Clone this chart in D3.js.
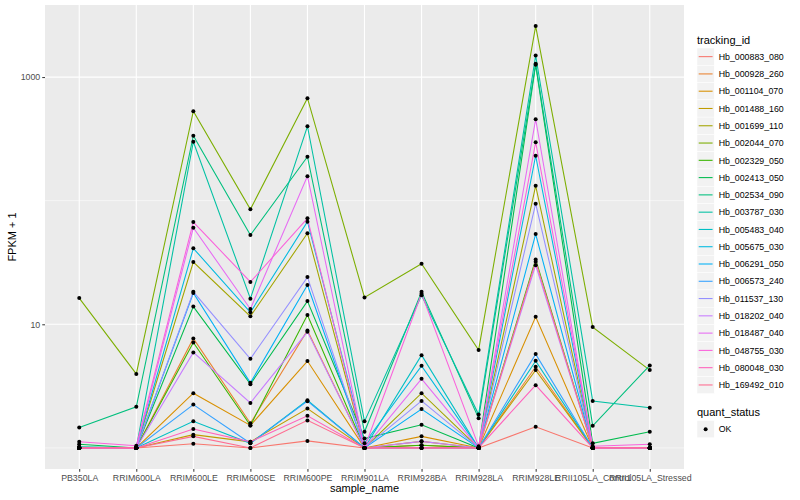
<!DOCTYPE html>
<html lang="en">
<head>
<meta charset="UTF-8">
<title>FPKM + 1</title>
<style>
  body { margin: 0; background: #fff; }
  text { font-family: "Liberation Sans", Arial, sans-serif; }
</style>
</head>
<body>
<svg id="chart" width="800" height="500"></svg>
<script src="https://d3js.org/d3.v7.min.js"></script>
<script>
// muestras (eje x)
var samples = ["PB350LA", "RRIM600LA", "RRIM600LE", "RRIM600SE", "RRIM600PE", "RRIM901LA",
  "RRIM928BA", "RRIM928LA", "RRIM928LE", "RRII105LA_Control", "RRII105LA_Stressed"];

var trackingIds = ["Hb_000883_080", "Hb_000928_260", "Hb_001104_070", "Hb_001488_160", "Hb_001699_110",
  "Hb_002044_070", "Hb_002329_050", "Hb_002413_050", "Hb_002534_090", "Hb_003787_030",
  "Hb_005483_040", "Hb_005675_030", "Hb_006291_050", "Hb_006573_240", "Hb_011537_130",
  "Hb_018202_040", "Hb_018487_040", "Hb_048755_030", "Hb_080048_030", "Hb_169492_010"];

var colors = ["#F8766D", "#EA8331", "#D89000", "#C09B00", "#A3A500", "#7CAE00", "#39B600", "#00BB4E",
  "#00BF7D", "#00C1A3", "#00BFC4", "#00BAE0", "#00B0F6", "#35A2FF", "#9590FF", "#C77CFF",
  "#E76BF3", "#FA62DB", "#FF62BC", "#FF6C91"];

// FPKM + 1 por muestra
var hb_000883_080 = [1.0, 1.0, 1.08, 1.0, 1.14, 1.0, 1.0, 1.0, 1.48, 1.0, 1.0];
var hb_000928_260 = [1.0, 1.0, 7.69, 1.58, 8.92, 1.0, 1.05, 1.0, 4.53, 1.0, 1.0];
var hb_001104_070 = [1.0, 1.0, 2.77, 1.52, 5.04, 1.0, 1.24, 1.0, 11.5, 1.0, 1.0];
var hb_001488_160 = [1.0, 1.0, 1.28, 1.12, 2.08, 1.0, 1.13, 1.0, 4.26, 1.0, 1.0];
var hb_001699_110 = [1.0, 1.0, 31.9, 11.6, 54.5, 1.0, 2.77, 1.0, 132, 1.0, 1.0];
var hb_002044_070 = [16.3, 3.97, 530, 85.2, 675, 16.5, 30.9, 6.2, 2585, 9.49, 4.26];
var hb_002329_050 = [1.0, 1.0, 7.13, 1.52, 11.9, 1.0, 1.05, 1.0, 33.5, 1.0, 1.0];
var hb_002413_050 = [1.07, 1.0, 13.9, 3.28, 15.4, 1.19, 1.54, 1.0, 1256, 1.09, 1.35];
var hb_002534_090 = [1.46, 2.15, 336, 52.7, 227, 1.35, 18.3, 1.74, 1279, 1.51, 4.65];
var hb_003787_030 = [1.02, 1.0, 300, 16.1, 400, 1.64, 17.2, 1.86, 1493, 2.40, 2.11];
var hb_005483_040 = [1.0, 1.0, 1.64, 1.09, 2.43, 1.0, 5.63, 1.0, 5.06, 1.0, 1.0];
var hb_005675_030 = [1.0, 1.0, 41.2, 12.5, 67.6, 1.09, 4.61, 1.0, 231, 1.0, 1.0];
var hb_006291_050 = [1.0, 1.0, 17.9, 3.36, 20.8, 1.0, 2.06, 1.0, 53.7, 1.0, 1.0];
var hb_006573_240 = [1.0, 1.0, 2.24, 1.09, 2.39, 1.0, 1.0, 1.0, 5.74, 1.0, 1.0];
var hb_011537_130 = [1.0, 1.0, 18.3, 5.26, 24.1, 1.0, 2.40, 1.0, 94.6, 1.0, 1.0];
var hb_018202_040 = [1.0, 1.0, 5.92, 2.31, 8.69, 1.0, 1.13, 1.0, 30.1, 1.0, 1.0];
var hb_018487_040 = [1.0, 1.0, 60.4, 13.3, 158, 1.0, 3.62, 1.0, 456, 1.0, 1.0];
var hb_048755_030 = [1.12, 1.04, 67.2, 22.0, 72, 1.0, 17.7, 1.03, 297, 1.03, 1.07];
var hb_080048_030 = [1.0, 1.0, 1.42, 1.12, 1.82, 1.0, 1.0, 1.0, 3.22, 1.0, 1.0];
var hb_169492_010 = [1.0, 1.0, 1.24, 1.0, 1.67, 1.0, 1.0, 1.0, 32.1, 1.0, 1.0];

var values = [hb_000883_080, hb_000928_260, hb_001104_070, hb_001488_160, hb_001699_110,
  hb_002044_070, hb_002329_050, hb_002413_050, hb_002534_090, hb_003787_030,
  hb_005483_040, hb_005675_030, hb_006291_050, hb_006573_240, hb_011537_130,
  hb_018202_040, hb_018487_040, hb_048755_030, hb_080048_030, hb_169492_010];

var yMajor = [10, 1000];
var yMinor = [1, 100];
var quantStatus = ["OK"];

var svg = d3.select("#chart"),
  pLeft = 45, pRight = 684, pTop = 5, pBottom = 469;

// escala log con 5% de expansion como ggplot
var all = d3.merge(values),
  lo = Math.log10(d3.min(all)),
  hi = Math.log10(d3.max(all)),
  pad = (hi - lo) * 0.05;

var x = d3.scalePoint().domain(samples).range([pLeft, pRight]).padding(0.6);
var y = d3.scaleLog().domain([Math.pow(10, lo - pad), Math.pow(10, hi + pad)]).range([pBottom, pTop]);

// panel
svg.append("rect").attr("x", pLeft).attr("y", pTop)
  .attr("width", pRight - pLeft).attr("height", pBottom - pTop).attr("fill", "#EBEBEB");

svg.selectAll(".minor").data(yMinor).enter().append("line")
  .attr("x1", pLeft).attr("x2", pRight)
  .attr("y1", d => y(d)).attr("y2", d => y(d))
  .attr("stroke", "#fff").attr("stroke-width", 0.55);

svg.selectAll(".major").data(yMajor).enter().append("line")
  .attr("x1", pLeft).attr("x2", pRight)
  .attr("y1", d => y(d)).attr("y2", d => y(d))
  .attr("stroke", "#fff").attr("stroke-width", 1.1);

svg.selectAll(".vgrid").data(samples).enter().append("line")
  .attr("x1", d => x(d)).attr("x2", d => x(d))
  .attr("y1", pTop).attr("y2", pBottom)
  .attr("stroke", "#fff").attr("stroke-width", 1.1);

// ejes
var yAxis = d3.axisLeft(y).tickValues(yMajor).tickFormat(d3.format("d")).tickSize(2.75).tickPadding(2);
var gy = svg.append("g").attr("transform", "translate(" + pLeft + ",0)").call(yAxis);
var xAxis = d3.axisBottom(x).tickSize(2.75).tickPadding(3);
var gx = svg.append("g").attr("transform", "translate(0," + pBottom + ")").call(xAxis);

[gy, gx].forEach(function (g) {
  g.select(".domain").remove();
  g.selectAll(".tick line").attr("stroke", "#333");
  g.selectAll(".tick text").attr("fill", "#4D4D4D").attr("font-size", 8.8)
    .attr("font-family", "Liberation Sans, Arial, sans-serif");
});

svg.append("text").attr("x", (pLeft + pRight) / 2).attr("y", 492)
  .attr("text-anchor", "middle").attr("font-size", 11).text("sample_name");

svg.append("text").attr("transform", "translate(16," + (pTop + pBottom) / 2 + ") rotate(-90)")
  .attr("text-anchor", "middle").attr("font-size", 11).text("FPKM + 1");

// lineas por tracking_id
var line = d3.line().x((d, i) => x(samples[i])).y(d => y(d));

svg.selectAll(".serie").data(values).enter().append("path")
  .attr("d", line).attr("fill", "none")
  .attr("stroke", (d, i) => colors[i]).attr("stroke-width", 1.07);

values.forEach(function (serie) {
  svg.selectAll(null).data(serie).enter().append("circle")
    .attr("cx", (d, i) => x(samples[i])).attr("cy", d => y(d))
    .attr("r", 2).attr("fill", "#000");
});

// leyenda
var lx = 697, ly = 48, ks = 17.28;
svg.append("text").attr("x", lx).attr("y", 44).attr("font-size", 11).text("tracking_id");

var item = svg.selectAll(".leg").data(trackingIds).enter().append("g")
  .attr("transform", (d, i) => "translate(" + lx + "," + (ly + i * ks) + ")");
item.append("rect").attr("width", ks).attr("height", ks)
  .attr("fill", "#F2F2F2").attr("stroke", "#fff").attr("stroke-width", 0.5);
item.append("line").attr("x1", 1.7).attr("x2", ks - 1.7).attr("y1", ks / 2).attr("y2", ks / 2)
  .attr("stroke", (d, i) => colors[i]).attr("stroke-width", 1.07);
item.append("text").attr("x", ks + 4.4).attr("y", ks / 2 + 3.2)
  .attr("font-size", 8.8).text(d => d);

svg.append("text").attr("x", lx).attr("y", 416).attr("font-size", 11).text("quant_status");

var q = svg.selectAll(".qs").data(quantStatus).enter().append("g")
  .attr("transform", (d, i) => "translate(" + lx + "," + (420.5 + i * ks) + ")");
q.append("rect").attr("width", ks).attr("height", ks)
  .attr("fill", "#F2F2F2").attr("stroke", "#fff").attr("stroke-width", 0.5);
q.append("circle").attr("cx", ks / 2).attr("cy", ks / 2).attr("r", 2).attr("fill", "#000");
q.append("text").attr("x", ks + 4.4).attr("y", ks / 2 + 3.2).attr("font-size", 8.8).text(d => d);
</script>
</body>
</html>
